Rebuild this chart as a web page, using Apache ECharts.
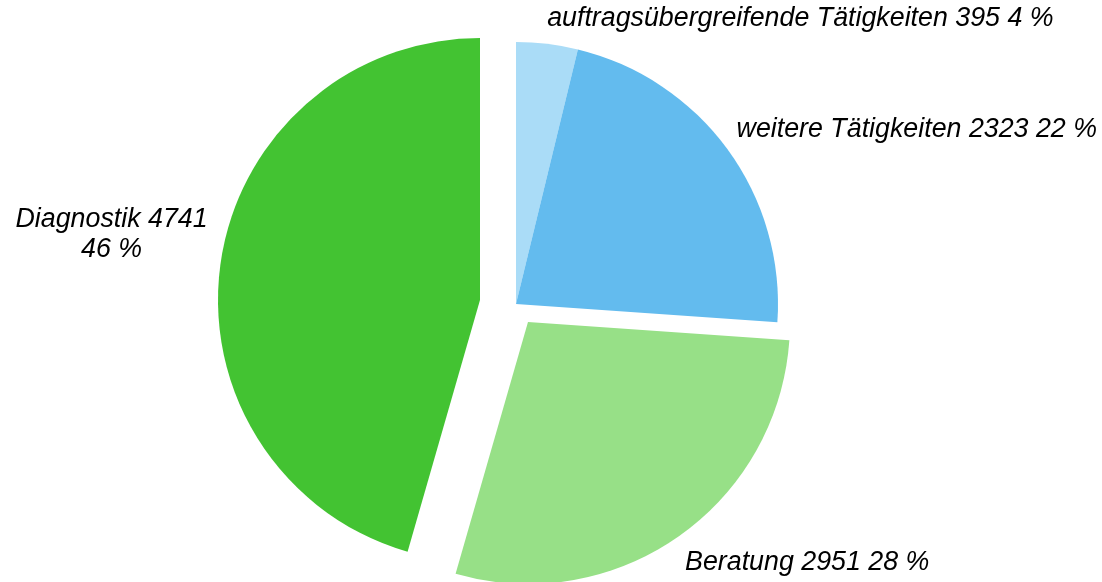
<!DOCTYPE html>
<html>
<head>
<meta charset="utf-8">
<script src="https://cdn.jsdelivr.net/npm/echarts@6/dist/echarts.min.js"></script>
<style>
  html, body { margin: 0; padding: 0; background: #fff; }
  #chart { width: 1102px; height: 582px; }
</style>
</head>
<body>
<div id="chart"></div>
<script>
const categories = ['auftragsübergreifende Tätigkeiten', 'weitere Tätigkeiten', 'Beratung', 'Diagnostik']
const values = [395, 2323, 2951, 4741]
const colors = ['#aadcf7', '#63bbee', '#97e087', '#43c332']

// exploded pieces: each piece is its own pie series with its own centre
const pieces = [
  { items: [0, 1], center: [516, 304] },
  { items: [2], center: [528, 322] },
  { items: [3], center: [480, 300] },
]
// label placement along the label line (line itself hidden)
const labelLine = [
  { length: 25, length2: -8 },
  { length: 33.5, length2: -23 },
  { length: 32, length2: -16.5 },
  { length: 0, length2: 0 },
]

const font = {
  fontFamily: 'Liberation Sans',
  fontStyle: 'italic',
  fontSize: 26.8,
  lineHeight: 30,
  color: '#000',
}

const chart = echarts.init(document.getElementById('chart'))

const series = pieces.map((piece) => ({
  type: 'pie',
  radius: 262,
  center: piece.center,
  startAngle: 90,
  clockwise: true,
  animation: false,
  silent: true,
  avoidLabelOverlap: false,
  percentPrecision: 0,
  emphasis: { disabled: true },
  label: {
    position: 'outside',
    formatter: '{b} {c} {d} %',
    distanceToLabelLine: 5,
    ...font,
  },
  labelLine: { show: false },
  labelLayout: piece.items.includes(3) ? { align: 'center', dx: -104, dy: -29 } : undefined,
  data: categories.map((name, i) => {
    const shown = piece.items.includes(i)
    return {
      name,
      value: values[i],
      itemStyle: { color: shown ? colors[i] : 'rgba(0,0,0,0)' },
      label: shown
        ? { show: true, formatter: i === 3 ? '{b} {c}\n{d} %' : '{b} {c} {d} %' }
        : { show: false },
      labelLine: { show: false, ...labelLine[i] },
    }
  }),
}))

chart.setOption({
  backgroundColor: '#fff',
  series,
})
</script>
</body>
</html>
